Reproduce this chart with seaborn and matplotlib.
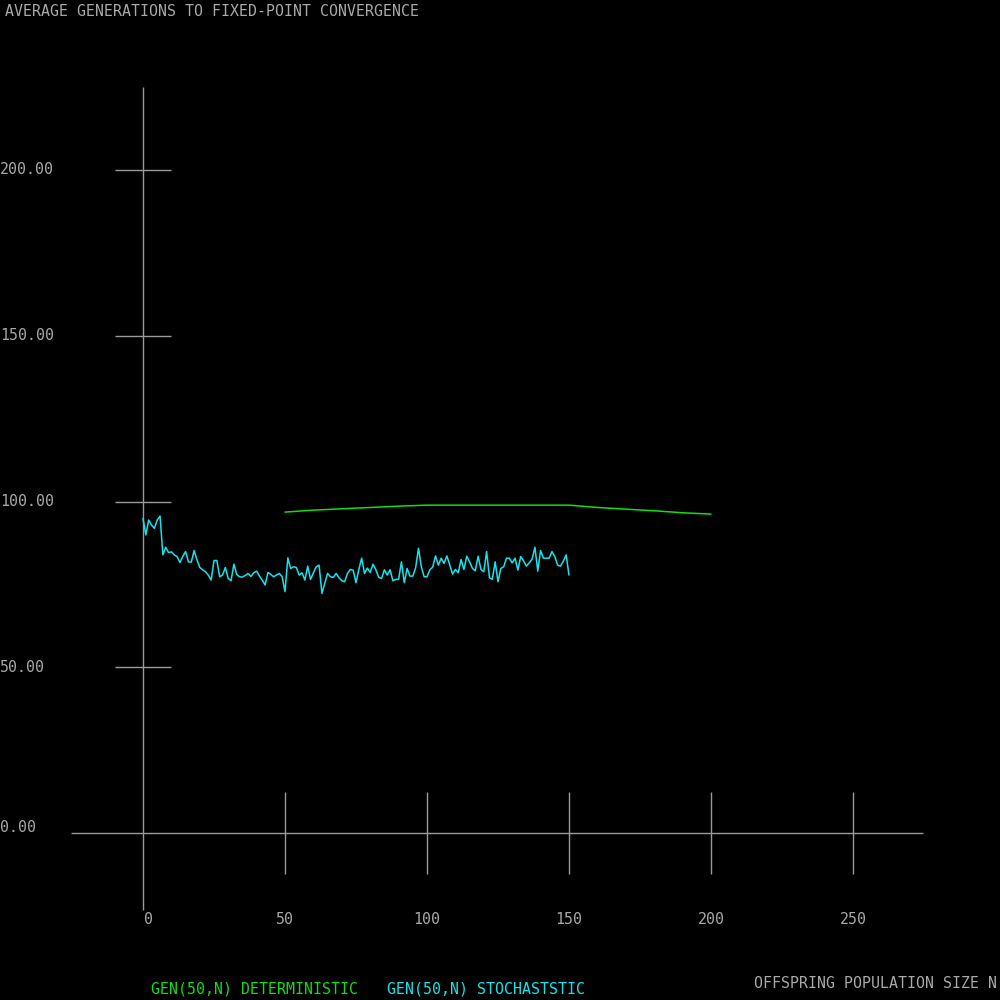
import numpy as np
import pandas as pd
import seaborn as sns
import matplotlib.pyplot as plt

# deterministic GEN(50,N), sampled every 10
det_n = [50, 60, 70, 80, 90, 100, 110, 120, 130, 140, 150, 160, 170, 180, 190, 200]
det_gen = [96.8, 97.4, 97.8, 98.2, 98.6, 98.9, 98.9, 98.9, 98.9, 98.9, 98.9,
           98.2, 97.7, 97.2, 96.6, 96.2]

# stochastic GEN(50,N), N = 0..150
sto_gen = [
    94.9, 89.9, 94.4, 92.9, 91.9, 94.4, 95.6, 83.9, 86.2, 84.6,
    84.8, 83.9, 83.4, 81.6, 83.4, 84.9, 81.8, 81.7, 85.2, 82.4,
    80.1, 79.4, 78.8, 77.8, 76.3, 82.2, 82.2, 77.3, 77.8, 80.1,
    76.8, 76.1, 81.1, 78.0, 77.3, 77.2, 77.7, 78.3, 77.4, 78.5,
    79.0, 77.5, 76.3, 74.8, 78.6, 78.0, 77.3, 77.8, 78.3, 77.3,
    72.8, 83.0, 79.8, 80.3, 80.1, 77.8, 78.5, 76.3, 80.5, 76.5,
    78.5, 80.3, 80.8, 72.3, 75.3, 78.3, 77.3, 77.1, 78.3, 77.0,
    76.1, 75.8, 78.3, 79.5, 79.3, 75.5, 79.5, 82.9, 78.3, 79.9,
    78.6, 81.1, 79.4, 77.1, 76.8, 79.4, 77.8, 79.4, 76.1, 76.5,
    76.5, 81.8, 75.5, 79.8, 77.5, 77.5, 80.0, 85.9, 80.3, 77.3,
    77.3, 79.4, 80.2, 83.6, 80.8, 82.9, 81.3, 83.6, 80.8, 78.1,
    79.5, 78.5, 82.5, 79.5, 83.5, 81.8, 79.8, 79.1, 83.5, 79.5,
    78.8, 84.9, 77.0, 76.5, 81.8, 75.8, 79.8, 80.3, 82.9, 82.9,
    81.5, 82.9, 79.3, 83.4, 82.1, 80.5, 81.5, 82.6, 86.2, 79.0,
    85.2, 82.9, 82.9, 82.9, 84.9, 83.4, 80.8, 80.5, 82.0, 83.9,
    77.8,
]
sto_n = list(range(len(sto_gen)))

x_ticks = [0, 50, 100, 150, 200, 250]
y_ticks = [0, 50, 100, 150, 200]

GREEN = "#11dd11"
CYAN = "#11e5ee"
GRAY = "#9a9a9a"
TEXT = "#a8a8a8"
MONO = "DejaVu Sans Mono"

sns.set_style("dark", {"axes.facecolor": "black", "figure.facecolor": "black"})
plt.rcParams["font.family"] = [MONO]

fig = plt.figure(figsize=(10, 10), dpi=100)
ax = fig.add_axes([0, 0, 1, 1])
ax.set_facecolor("black")
ax.set_axis_off()

# pixel mapping: x=0 at 143px, 2.84 px/unit; y=0 at 833px, 3.315 px/unit
ax.set_xlim(-143 / 2.84, (1000 - 143) / 2.84)
ax.set_ylim(-(1000 - 833) / 3.315, 833 / 3.315)

# axis lines
ax.hlines(0, -25.4, 274.6, color=GRAY, lw=1)
ax.vlines(0, -23.2, 225, color=GRAY, lw=1)

# tick marks crossing the axes
ax.vlines(x_ticks[1:], -12.4, 12.4, color=GRAY, lw=1)
ax.hlines(y_ticks[1:], -10, 10, color=GRAY, lw=1)

det = pd.DataFrame({"n": det_n, "gen": det_gen})
sto = pd.DataFrame({"n": sto_n, "gen": sto_gen})
sns.lineplot(data=det, x="n", y="gen", color=GREEN, lw=1.1, ax=ax)
sns.lineplot(data=sto, x="n", y="gen", color=CYAN, lw=1.1, ax=ax)

fs = 10.7
ytf = ax.get_yaxis_transform()
for v in y_ticks:
    off = 1.8 if v == 0 else 0
    ax.text(0.0, v + off, f"{v:.2f}", transform=ytf, ha="left", va="center",
            color=TEXT, fontsize=fs, family=MONO)

xtf = ax.get_xaxis_transform()
for v in x_ticks:
    off = 2 if v == 0 else 0
    ax.text(v + off, 0.08, f"{v}", transform=xtf, ha="center", va="center",
            color=TEXT, fontsize=fs, family=MONO)

fig.text(0.005, 0.9965, "AVERAGE GENERATIONS TO FIXED-POINT CONVERGENCE",
         ha="left", va="top", color=TEXT, fontsize=fs, family=MONO)
fig.text(0.997, 0.0245, "OFFSPRING POPULATION SIZE N",
         ha="right", va="top", color=TEXT, fontsize=fs, family=MONO)
fig.text(0.151, 0.003, "GEN(50,N) DETERMINISTIC",
         ha="left", va="bottom", color=GREEN, fontsize=fs, family=MONO)
fig.text(0.387, 0.003, "GEN(50,N) STOCHASTSTIC",
         ha="left", va="bottom", color=CYAN, fontsize=fs, family=MONO)

fig.savefig("out.png", dpi=100, facecolor="black")
